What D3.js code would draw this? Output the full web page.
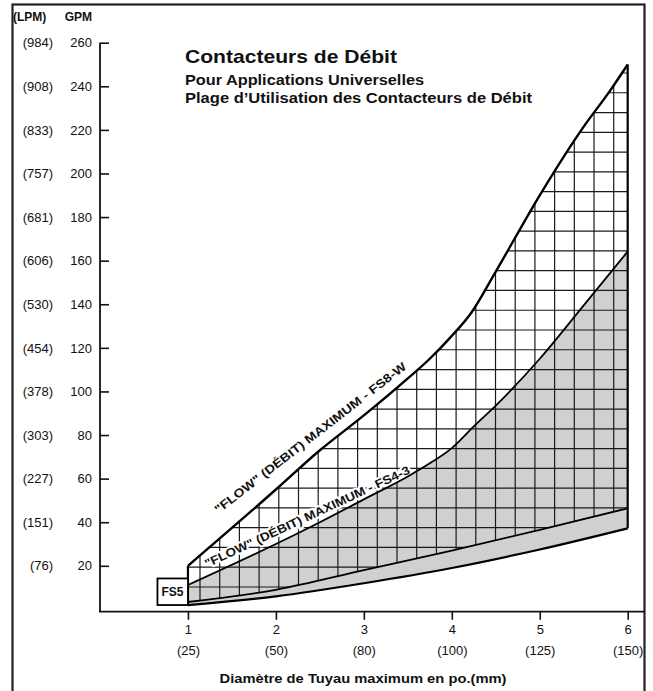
<!DOCTYPE html>
<html>
<head>
<meta charset="utf-8">
<script src="https://cdn.jsdelivr.net/npm/d3@7"></script>
<style>
  body { margin: 0; background: #fff; }
  svg { display: block; }
  text { font-family: "Liberation Sans", Arial, Helvetica, sans-serif; fill: #111; }
</style>
</head>
<body>
<div id="chart"></div>
<script>
// axis values
const GPM_TICKS = [20, 40, 60, 80, 100, 120, 140, 160, 180, 200, 220, 240, 260];
const LPM_LABELS = ["(76)", "(151)", "(227)", "(303)", "(378)", "(454)", "(530)",
  "(606)", "(681)", "(757)", "(833)", "(908)", "(984)"];
const X_TICKS = [1, 2, 3, 4, 5, 6];
const MM_LABELS = ["(25)", "(50)", "(80)", "(100)", "(125)", "(150)"];

// curves: [pipe diameter in., flow GPM]
const FS8W_MAX = [[1, 20], [2, 55], [2.5, 73], [3, 89], [3.5, 106], [3.75, 115],
  [4, 125.5], [4.22, 136], [4.5, 155], [5, 190], [5.5, 221.5], [5.8, 238], [6, 250]];
const FS43_MAX = [[1, 11.2], [2, 30], [2.5, 40], [3, 50.5], [3.5, 61], [3.75, 67],
  [4, 74], [4.25, 84], [4.5, 93.5], [5, 115], [5.5, 139.5], [6, 164.2]];
const FS5_TOP = [[1, 3.4], [2, 9], [3, 18], [4, 27], [5, 36.5], [6, 46.4]];
const FS5_BOTTOM = [[1, 2], [2, 6], [3, 12], [4, 19], [5, 27.5], [6, 37.2]];

// hatch grid (data units)
const GRID_X = { start: 1.137, step: 0.224 };
const GRID_Y = { start: 246.1, step: 9.07 };

const W = 653, H = 691;
const AXIS_Y = 611.7;

const svg = d3.select("#chart").append("svg")
  .attr("width", W).attr("height", H);

const x = d3.scaleLinear().domain([0, 6]).range([100, 627.7]);
const y = d3.scaleLinear().domain([0, 260]).range([609.4, 42.7]);

const line = d3.line().x(d => x(d[0])).y(d => y(d[1])).curve(d3.curveMonotoneX);
const areaDown = d3.area().x(d => x(d[0])).y0(y(0)).y1(d => y(d[1])).curve(d3.curveMonotoneX);
const areaUp = d3.area().x(d => x(d[0])).y0(y(280)).y1(d => y(d[1])).curve(d3.curveMonotoneX);

// frame
svg.append("rect")
  .attr("x", 12.5).attr("y", 4.5).attr("width", 632).attr("height", 720)
  .attr("fill", "none").attr("stroke", "#222").attr("stroke-width", 2.2);

// clip paths
const defs = svg.append("defs");
defs.append("clipPath").attr("id", "belowTop").append("path").attr("d", areaDown(FS8W_MAX));
defs.append("clipPath").attr("id", "aboveFs5").append("path").attr("d", areaUp(FS5_TOP));
defs.append("clipPath").attr("id", "aboveBottom").append("path").attr("d", areaUp(FS5_BOTTOM));

// gray region between bottom curve and FS4-3
svg.append("g").attr("clip-path", "url(#aboveBottom)")
  .append("path")
  .attr("d", areaDown(FS43_MAX))
  .attr("fill", "#d0d0d0");

// hatch grid
const gridG = svg.append("g").attr("clip-path", "url(#belowTop)")
  .append("g").attr("clip-path", "url(#aboveFs5)");
const gx = d3.range(GRID_X.start, 6, GRID_X.step);
const gy = d3.range(GRID_Y.start, 0, -GRID_Y.step);
gridG.selectAll("line.gv").data(gx).join("line")
  .attr("class", "gv")
  .attr("x1", d => x(d)).attr("x2", d => x(d))
  .attr("y1", y(260)).attr("y2", y(0))
  .attr("stroke", "#1a1a1a").attr("stroke-width", 1.2);
gridG.selectAll("line.gh").data(gy).join("line")
  .attr("class", "gh")
  .attr("x1", x(1)).attr("x2", x(6))
  .attr("y1", d => y(d)).attr("y2", d => y(d))
  .attr("stroke", "#1a1a1a").attr("stroke-width", 1.2);

// rotated labels along curves
function curveLabel(txt, p0, p1) {
  const sx = x(p0[0]), sy = y(p0[1]), ex = x(p1[0]), ey = y(p1[1]);
  const ang = Math.atan2(ey - sy, ex - sx) * 180 / Math.PI;
  const len = Math.hypot(ex - sx, ey - sy);
  svg.append("text")
    .attr("transform", `translate(${sx},${sy}) rotate(${ang})`)
    .attr("font-size", "12px")
    .attr("font-weight", "bold")
    .attr("textLength", len)
    .attr("lengthAdjust", "spacingAndGlyphs")
    .attr("stroke", "#fff").attr("stroke-width", 4)
    .attr("paint-order", "stroke")
    .attr("stroke-linejoin", "round")
    .text(txt);
}
curveLabel("\"FLOW\" (DÉBIT) MAXIMUM - FS8-W", [1.347, 43.8], [3.493, 110.7]);
curveLabel("\"FLOW\" (DÉBIT) MAXIMUM - FS4-3", [1.217, 19.0], [3.533, 62.5]);

// curve outlines
svg.append("path").attr("d", line(FS5_BOTTOM))
  .attr("fill", "none").attr("stroke", "#000").attr("stroke-width", 2.2);
svg.append("path").attr("d", line(FS5_TOP))
  .attr("fill", "none").attr("stroke", "#000").attr("stroke-width", 1.8);
svg.append("path").attr("d", line(FS43_MAX))
  .attr("fill", "none").attr("stroke", "#000").attr("stroke-width", 1.8);
svg.append("path").attr("d", line(FS8W_MAX))
  .attr("fill", "none").attr("stroke", "#000").attr("stroke-width", 2.4);
// side edges at x = 1 and x = 6
[[1, FS5_BOTTOM[0][1], FS8W_MAX[0][1]],
 [6, FS5_BOTTOM[FS5_BOTTOM.length - 1][1], FS8W_MAX[FS8W_MAX.length - 1][1]]]
  .forEach(([xv, lo, hi]) => {
    svg.append("line")
      .attr("x1", x(xv)).attr("x2", x(xv))
      .attr("y1", y(lo)).attr("y2", y(hi))
      .attr("stroke", "#000").attr("stroke-width", 2.2);
  });

// FS5 box
svg.append("rect")
  .attr("x", x(1) - 30.5).attr("y", y(14.2))
  .attr("width", 30.5).attr("height", y(2) - y(14.2))
  .attr("fill", "#fff").attr("stroke", "#000").attr("stroke-width", 1.8);
svg.append("text")
  .attr("x", x(1) - 15.5).attr("y", (y(2) + y(14.2)) / 2 + 4.5)
  .attr("text-anchor", "middle")
  .attr("font-size", "12px").attr("font-weight", "bold")
  .text("FS5");

// Y axis
const yAxis = svg.append("g")
  .attr("transform", `translate(${x(0)},0)`)
  .call(d3.axisLeft(y).tickValues(GPM_TICKS).tickSize(-9).tickSizeOuter(0).tickPadding(8));
yAxis.select(".domain").remove();
yAxis.selectAll(".tick line").attr("stroke", "#111").attr("stroke-width", 1.6);
yAxis.selectAll(".tick text")
  .attr("font-size", "13px").attr("font-family", null).attr("fill", "#111");
yAxis.selectAll(".tick").append("text")
  .attr("x", 53 - x(0)).attr("dy", "0.32em")
  .attr("text-anchor", "end").attr("font-size", "13px").attr("fill", "#111")
  .text((d, i) => LPM_LABELS[i]);
svg.append("line")
  .attr("x1", x(0)).attr("x2", x(0))
  .attr("y1", y(260)).attr("y2", AXIS_Y)
  .attr("stroke", "#111").attr("stroke-width", 1.8);

// X axis
const xAxis = svg.append("g")
  .attr("transform", `translate(0,${AXIS_Y})`)
  .call(d3.axisBottom(x).tickValues(X_TICKS).tickSize(8).tickSizeOuter(0).tickPadding(5)
    .tickFormat(d3.format("d")));
xAxis.select(".domain").remove();
xAxis.selectAll(".tick line").attr("stroke", "#111").attr("stroke-width", 1.6);
xAxis.selectAll(".tick text")
  .attr("font-size", "13px").attr("font-family", null).attr("fill", "#111");
xAxis.selectAll(".tick").append("text")
  .attr("y", 43).attr("text-anchor", "middle")
  .attr("font-size", "13px").attr("fill", "#111")
  .text((d, i) => MM_LABELS[i]);
svg.append("line")
  .attr("x1", x(0) - 0.9).attr("x2", 644.5)
  .attr("y1", AXIS_Y).attr("y2", AXIS_Y)
  .attr("stroke", "#111").attr("stroke-width", 1.8);

// axis headings
svg.append("text").attr("x", 13).attr("y", 21)
  .attr("font-size", "12px").attr("font-weight", "bold").text("(LPM)");
svg.append("text").attr("x", 92).attr("y", 21).attr("text-anchor", "end")
  .attr("font-size", "12px").attr("font-weight", "bold").text("GPM");
svg.append("text").attr("x", 363).attr("y", 682.5).attr("text-anchor", "middle")
  .attr("font-size", "13px").attr("font-weight", "bold")
  .attr("textLength", 287).attr("lengthAdjust", "spacingAndGlyphs")
  .text("Diamètre de Tuyau maximum en po.(mm)");

// titles
svg.append("text").attr("x", 185).attr("y", 63)
  .attr("font-size", "19px").attr("font-weight", "bold")
  .attr("textLength", 212).attr("lengthAdjust", "spacingAndGlyphs")
  .text("Contacteurs de Débit");
svg.append("text").attr("x", 185).attr("y", 85)
  .attr("font-size", "14px").attr("font-weight", "bold")
  .attr("textLength", 239).attr("lengthAdjust", "spacingAndGlyphs")
  .text("Pour Applications Universelles");
svg.append("text").attr("x", 185).attr("y", 103.3)
  .attr("font-size", "14px").attr("font-weight", "bold")
  .attr("textLength", 347).attr("lengthAdjust", "spacingAndGlyphs")
  .text("Plage d’Utilisation des Contacteurs de Débit");
</script>
</body>
</html>
